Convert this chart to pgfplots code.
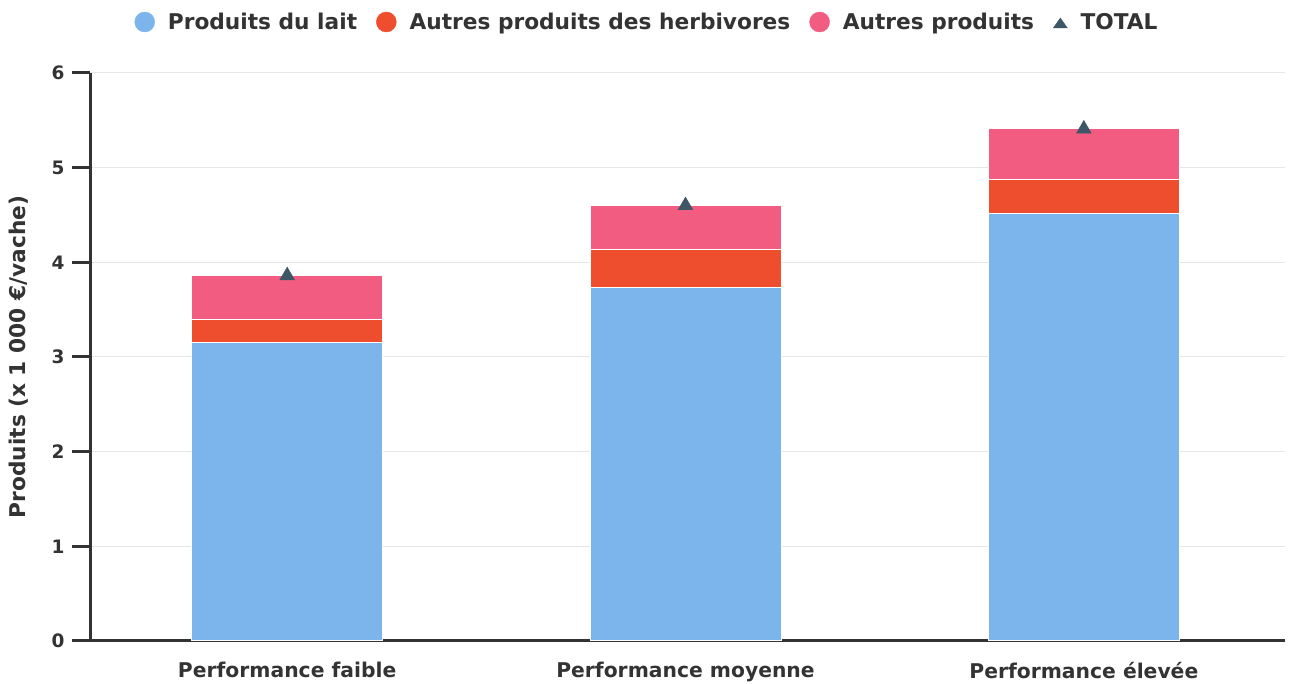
\documentclass[border=0pt]{standalone}
\usepackage{pgfplots}
\pgfplotsset{compat=1.18}
\usepackage{fontspec}
\setmainfont{DejaVu Sans}
\definecolor{cmilk}{HTML}{7CB5EC}
\definecolor{cherb}{HTML}{EF4E2E}
\definecolor{cother}{HTML}{F15C80}
\definecolor{ctot}{HTML}{3E5766}
\definecolor{ctext}{HTML}{333333}
\definecolor{cgrid}{HTML}{E6E6E6}
\begin{document}
\begin{tikzpicture}
\path[use as bounding box] (0,0) rectangle (1289pt,684pt);
\pgfplotsset{
  common/.style={
    at={(90pt,43pt)}, anchor=south west, scale only axis,
    width=1195pt, height=568pt,
    xmin=-0.495, xmax=2.505, ymin=0, ymax=6,
  }
}
\begin{axis}[
  common,
  ybar stacked, bar width=191pt,
  xtick={0,1,2},
  xticklabels={Performance faible, Performance moyenne, Performance élevée},
  ytick={0,1,2,3,4,5,6},
  /pgf/number format/assume math mode=true,
  ymajorgrids, grid style={cgrid, line width=1pt},
  axis x line=bottom, axis y line=left,
  axis line style={ctext, line width=3pt, -},
  tick align=outside, major tick length=18pt,
  every y tick/.style={draw=ctext, line width=3pt},
  every x tick/.style={draw=none},
  yticklabel style={font=\fontsize{18.5}{21}\selectfont\bfseries, text=ctext, xshift=-4pt},
  xticklabel style={font=\fontsize{20.3}{24}\selectfont\bfseries, text=ctext},
  ylabel={Produits (x 1 000 €/vache)},
  ylabel style={at={(axis description cs:-0.0595,0.5)}, anchor=center,
    font=\fontsize{21.7}{25}\selectfont\bfseries, text=ctext},
]
\addplot[fill=cmilk, draw=white, line width=1pt] coordinates {(0,3.15) (1,3.73) (2,4.52)};
\addplot[fill=cherb, draw=white, line width=1pt] coordinates {(0,0.25) (1,0.41) (2,0.35)};
\addplot[fill=cother, draw=white, line width=1pt] coordinates {(0,0.46) (1,0.46) (2,0.54)};
\end{axis}
\begin{axis}[
  common, hide axis,
  legend columns=4,
  legend style={at={(0.4653,1.0898)}, anchor=center, draw=none, fill=none,
    nodes={inner sep=0pt, font=\fontsize{21.7}{25}\selectfont\bfseries, text=ctext},
    /tikz/every odd column/.append style={column sep=13pt},
    /tikz/every even column/.append style={column sep=19pt},
    /tikz/column 4/.append style={column sep=8pt}},
]
\addlegendimage{legend image code/.code={\fill[cmilk] (0pt,0pt) circle (10pt);}}
\addlegendentry{Produits du lait}
\addlegendimage{legend image code/.code={\fill[cherb] (0pt,0pt) circle (10pt);}}
\addlegendentry{Autres produits des herbivores}
\addlegendimage{legend image code/.code={\fill[cother] (0pt,0pt) circle (10pt);}}
\addlegendentry{Autres produits}
\addplot[only marks, mark=triangle*, mark size=8.5pt, color=ctot,
  legend image code/.code={\fill[ctot] (0pt,4pt) -- (-7pt,-6pt) -- (7pt,-6pt) -- cycle;}]
  coordinates {(0,3.86) (1,4.60) (2,5.41)};
\addlegendentry{TOTAL}
\end{axis}
\end{tikzpicture}
\end{document}
